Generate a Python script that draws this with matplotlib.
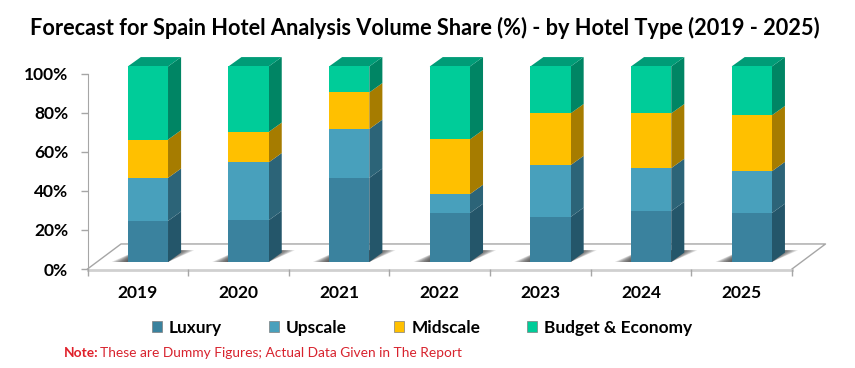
import matplotlib
matplotlib.use('Agg')
import matplotlib.pyplot as plt
from matplotlib.patches import Patch

plt.rcParams['font.family'] = ['Lato', 'DejaVu Sans']

# Values (cumulative tops turned into shares)
years = ['2019', '2020', '2021', '2022', '2023', '2024', '2025']
luxury = [21.0, 21.3, 43.0, 25.0, 23.0, 26.0, 25.0]
upscale = [22.0, 29.6, 25.0, 9.7, 26.5, 22.0, 21.4]
midscale = [19.6, 15.6, 18.7, 28.0, 26.5, 28.0, 28.6]
budget = [37.4, 33.5, 13.3, 37.3, 24.0, 24.0, 25.0]

names = ['Luxury', 'Upscale', 'Midscale', 'Budget & Economy']
series = [luxury, upscale, midscale, budget]
front_colors = ['#3A829E', '#48A0BC', '#FFC000', '#00CC99']
side_colors = ['#24566A', '#2C6478', '#A67C00', '#008564']
top_color = '#009C77'

W, H = 855, 368
fig = plt.figure(figsize=(W / 100, H / 100), dpi=100)
# axes box: x axis 87.5-792 px, 0% at y=269, 100% at y=73.5
ax = fig.add_axes([87.5 / W, 1 - 269 / H, (792 - 87.5) / W, (269 - 73.5) / H])
ax.set_xlim(0, 7)
ax.set_ylim(0, 100)

# fake 3d offsets, in data units
bar_w = 0.4
shift_x, shift_y = 0.10, 3.6
depth_x, depth_y = 0.13, 4.8
floor_x, floor_y = 0.333, 12.8

# floor
ax.plot([0, floor_x, 7 + floor_x, 7], [0, floor_y, floor_y, 0], color='#A6A6A6', lw=1, clip_on=False, zorder=1)
ax.plot([0, 7], [-0.3, -0.3], color='#D0D0D0', lw=2, clip_on=False, zorder=1)

for i in range(len(years)):
    left = i + 0.5 + shift_x - bar_w / 2
    right = left + bar_w

    # shadow on the floor, stacked transparent shapes to look soft
    for k in range(8):
        grow = 0.02 * k
        ax.fill([left - 0.02 - grow, right, right + 0.12 + grow, left + 0.1],
                [shift_y, shift_y, shift_y + 6, shift_y + 6],
                color='#303030', alpha=0.16, lw=0, zorder=2, clip_on=False)

    base = shift_y
    for s in range(4):
        val = series[s][i]
        ax.bar(i + 0.5 + shift_x, val, bar_w, bottom=base, color=front_colors[s], lw=0, zorder=4, clip_on=False)
        ax.fill([right, right + depth_x, right + depth_x, right],
                [base, base + depth_y, base + val + depth_y, base + val],
                color=side_colors[s], lw=0, zorder=3, clip_on=False)
        base += val
    ax.fill([left, left + depth_x, right + depth_x, right],
            [base, base + depth_y, base + depth_y, base],
            color=top_color, lw=0, zorder=3, clip_on=False)

# axes
for side in ['top', 'right']:
    ax.spines[side].set_visible(False)
ax.spines['left'].set_color('#A6A6A6')
ax.spines['bottom'].set_visible(False)
ax.set_yticks([0, 20, 40, 60, 80, 100])
ax.set_yticklabels(['0%', '20%', '40%', '60%', '80%', '100%'], fontsize=12.5, fontweight='bold')
ax.set_xticks(range(8))
ax.set_xticklabels([''] * 8)
ax.tick_params(axis='both', color='#A6A6A6', length=5, width=1)
ax.tick_params(axis='y', pad=9)
for i, year in enumerate(years):
    ax.text(i + 0.5, -12.5, year, ha='center', va='center', fontsize=12.5, fontweight='bold')

# Title
fig.text(425 / W, 1 - 28 / H, 'Forecast for Spain Hotel Analysis Volume Share (%) - by Hotel Type (2019 - 2025)',
         ha='center', va='center', fontsize=15.7, fontweight='bold')

# Legend
handles = [Patch(facecolor=c, edgecolor='#7F7F7F', lw=0.5, label=n) for c, n in zip(front_colors, names)]
fig.legend(handles=handles, ncol=4, loc='center', bbox_to_anchor=(422 / W, 1 - 328 / H), frameon=False,
           prop={'weight': 'bold', 'size': 12.4}, handlelength=0.6, handleheight=0.6,
           handletextpad=0.4, columnspacing=2.73)

# Note
fig.text(64 / W, 1 - 353 / H, 'Note:', color='#E0202A', fontsize=9.9, fontweight='bold', va='center')
fig.text(100 / W, 1 - 353 / H, 'These are Dummy Figures; Actual Data Given in The Report', color='#D8232E',
         fontsize=9.9, va='center')

fig.savefig('out.png', dpi=100)
